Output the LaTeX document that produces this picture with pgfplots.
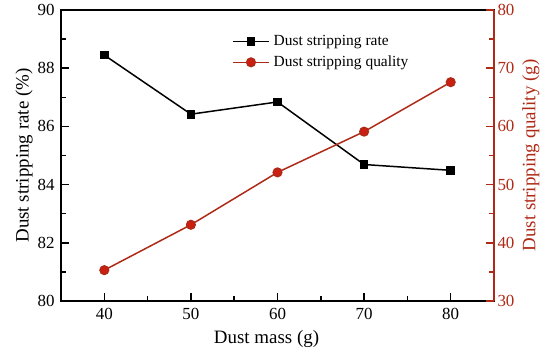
\documentclass[border=0pt]{standalone}
\usepackage{pgfplots}
\pgfplotsset{compat=1.18}
\usetikzlibrary{calc}
\usepackage{fontspec}
\setmainfont{Liberation Serif}
\definecolor{dred}{RGB}{175,42,22}
\definecolor{mred}{RGB}{205,30,18}
\begin{document}
\begin{tikzpicture}
\pgfplotsset{
  every axis/.append style={
    scale only axis, width=433bp, height=291bp,
    xmin=35, xmax=85,
    /pgf/number format/assume math mode=true,
    tick label style={font=\fontsize{17}{17}\selectfont},
    label style={font=\fontsize{19}{19}\selectfont, inner sep=0pt},
  },
}
\begin{axis}[
  name=ax,
  axis line style={line width=1.4pt},
  tick align=inside,
  major tick length=8bp, minor tick length=5bp,
  xtick style={draw=black, line width=1.5pt},
  ytick style={draw=black, line width=1.5pt},
  ymin=80, ymax=90,
  ytick={80,82,...,90}, minor ytick={81,83,85,87,89},
  xtick={40,50,...,80}, minor xtick={45,55,65,75},
  xtick pos=left, ytick pos=left,
  xticklabel style={yshift=-4bp},
  yticklabel style={xshift=-3bp},
  xlabel={Dust mass (g)},
  ylabel={Dust stripping rate (\%)},
  xlabel style={at={([xshift=-11bp,yshift=-29bp]axis description cs:0.5,0)}, anchor=north},
  ylabel style={at={([xshift=-28bp]axis description cs:0,0.5)}, anchor=south},
]
\addplot[black, line width=1.5pt, mark=square*, mark size=3.6pt] coordinates {
(40,88.45) (50,86.42) (60,86.84) (70,84.69) (80,84.49)};
\end{axis}
\begin{axis}[
  axis y line*=right, axis x line=none,
  ymin=30, ymax=80,
  tick align=inside,
  major tick length=8bp, minor tick length=5bp,
  ytick={30,40,...,80}, minor ytick={35,45,55,65,75},
  y axis line style={dred, line width=1.6pt},
  ytick style={draw=dred, line width=1.5pt},
  yticklabel style={dred},
  ylabel style={dred, at={([xshift=28bp]axis description cs:1,0.5)}, anchor=north},
  ylabel={Dust stripping quality (g)},
  legend image code/.code={
    \draw[mark repeat=2,mark phase=2,#1] plot coordinates {(0bp,0bp) (18bp,0bp) (36bp,0bp)};
  },
  legend style={draw=none, fill=none, inner sep=0pt, at={(0.395,0.918)}, anchor=north west,
    font=\fontsize{15.5}{17}\selectfont, row sep=6.5bp,
    nodes={inner sep=0pt, text height=11bp, text depth=3.5bp},
    /tikz/every odd column/.append style={column sep=4bp}},
  legend cell align=left,
]
\addlegendimage{black, line width=1.5pt, mark=square*, mark size=3.6pt}
\addlegendentry{Dust stripping rate}
\addplot[dred, line width=1.5pt, mark=*, mark size=4.3pt, mark options={fill=mred, draw=dred}] coordinates {
(40,35.3) (50,43.1) (60,52.1) (70,59.1) (80,67.6)};
\addlegendentry{Dust stripping quality}
\end{axis}
\pgfresetboundingbox
\path ($(ax.south west)+(-61bp,-54bp)$) rectangle ($(ax.north east)+(56bp,10bp)$);
\end{tikzpicture}
\end{document}
